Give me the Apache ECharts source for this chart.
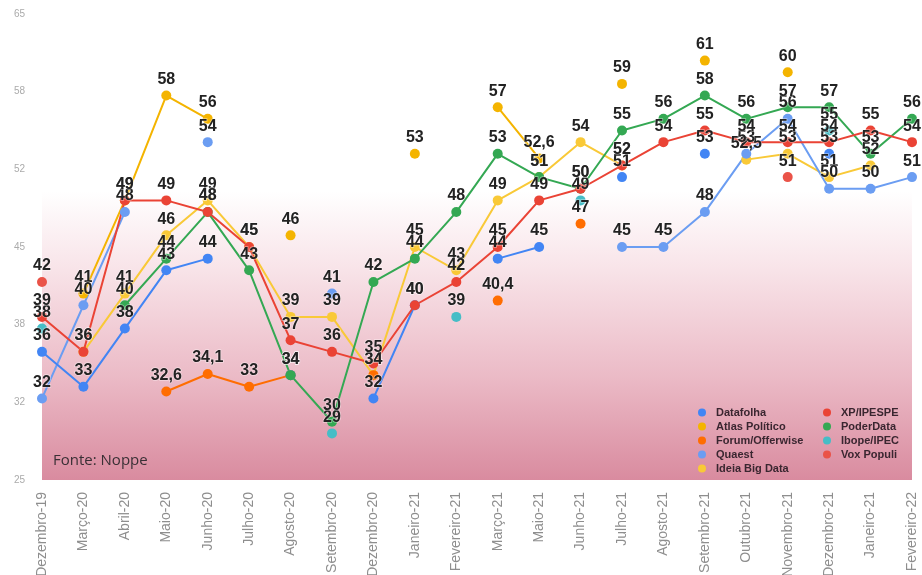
<!DOCTYPE html>
<html>
<head>
<meta charset="utf-8">
<script src="https://cdn.jsdelivr.net/npm/echarts@6/dist/echarts.min.js"></script>
<style>
  html, body { margin: 0; padding: 0; background: #fff; }
  #chart { width: 922px; height: 575px; }
</style>
</head>
<body>
<div id="chart"></div>
<script>
// Survey months (x axis)
const categories = [
  'Dezembro-19', 'Março-20', 'Abril-20', 'Maio-20', 'Junho-20', 'Julho-20',
  'Agosto-20', 'Setembro-20', 'Dezembro-20', 'Janeiro-21', 'Fevereiro-21',
  'Março-21', 'Maio-21', 'Junho-21', 'Julho-21', 'Agosto-21', 'Setembro-21',
  'Outubro-21', 'Novembro-21', 'Dezembro-21', 'Janeiro-21', 'Fevereiro-22'
];

// Disapproval (%) by pollster; null = no poll that month
const datafolha      = [36, 33, 38, 43, 44, null, 34, null, 32, 40, null, 44, 45, null, 51, null, 53, null, null, 53, null, null];
const xpIpespe       = [39, 36, 49, 49, 48, 45, 37, 36, 35, 40, 42, 45, 49, 50, 52, 54, 55, 54, 54, 54, 55, 54];
const atlasPolitico  = [null, 41, 49, 58, 56, null, 46, null, null, 53, null, 57, 52.6, null, 59, null, 61, null, 60, null, null, null];
const poderData      = [null, null, 40, 44, 48, 43, 34, 30, 42, 44, 48, 53, 51, 50, 55, 56, 58, 56, 57, 57, 53, 56];
const forumOfferwise = [null, null, null, 32.6, 34.1, 33, 34, null, 34, null, null, 40.4, null, 47, null, null, null, null, null, null, null, null];
const ibopeIpec      = [38, null, null, null, null, null, null, 29, null, null, 39, null, null, 49, null, null, null, null, null, 55, null, null];
const quaest         = [32, 40, 48, null, 54, null, null, 41, null, null, null, null, null, null, 45, 45, 48, 53, 56, 50, 50, 51];
const voxPopuli      = [42, null, null, null, null, null, null, null, null, null, null, null, null, null, null, null, null, null, 51, null, null, null];
const ideiaBigData   = [null, 36, 41, 46, 49, 45, 39, 39, 34, 45, 43, 49, 51, 54, 52, null, null, 52.5, 53, 51, 52, null];

// Y axis tick labels (six equal steps from 25 to 65)
const yTickLabels = [25, 32, 38, 45, 52, 58, 65];

const seriesDefs = [
  { name: 'Ideia Big Data',  data: ideiaBigData,   color: '#f9c937' },
  { name: 'Atlas Político',  data: atlasPolitico,  color: '#f4b400' },
  { name: 'Forum/Offerwise', data: forumOfferwise, color: '#ff6d01' },
  { name: 'Ibope/IPEC',      data: ibopeIpec,      color: '#46bdc6' },
  { name: 'Vox Populi',      data: voxPopuli,      color: '#ea5348' },
  { name: 'Quaest',          data: quaest,         color: '#6b9df2' },
  { name: 'Datafolha',       data: datafolha,      color: '#4285f4' },
  { name: 'PoderData',       data: poderData,      color: '#34a853' },
  { name: 'XP/IPESPE',       data: xpIpespe,       color: '#ea4335' }
];

function fmt(v) {
  return Number.isInteger(v) ? String(v) : v.toFixed(1).replace('.', ',');
}

const chart = echarts.init(document.getElementById('chart'), null, { renderer: 'canvas' });

const legendText = {
  fontSize: 11, fontWeight: 'bold', color: '#3a2630',
  fontFamily: 'Liberation Sans, Arial, sans-serif',
  padding: [0, 0, 0, 5]
};

chart.setOption({
  animation: false,
  backgroundColor: '#ffffff',
  grid: {
    left: 42, right: 10, top: 14, bottom: 95,
    outerBoundsMode: 'none',
    containLabel: false,
    show: true, borderWidth: 0,
    backgroundColor: {
      type: 'linear', x: 0, y: 0, x2: 0, y2: 1,
      colorStops: [
        { offset: 0, color: '#ffffff' },
        { offset: 0.38, color: '#ffffff' },
        { offset: 0.55, color: '#f8e3e8' },
        { offset: 0.78, color: '#ebbac6' },
        { offset: 1, color: '#d98b9f' }
      ]
    }
  },
  legend: [
    {
      data: ['Datafolha', 'Atlas Político', 'Forum/Offerwise', 'Quaest', 'Ideia Big Data'],
      orient: 'vertical', left: 693, top: 402,
      icon: 'circle', itemWidth: 8, itemHeight: 8, itemGap: 3,
      textStyle: legendText
    },
    {
      data: ['XP/IPESPE', 'PoderData', 'Ibope/IPEC', 'Vox Populi'],
      orient: 'vertical', left: 818, top: 402,
      icon: 'circle', itemWidth: 8, itemHeight: 8, itemGap: 3,
      textStyle: legendText
    }
  ],
  xAxis: {
    type: 'category',
    data: categories,
    boundaryGap: false,
    axisLine: { show: false },
    axisTick: { show: false },
    splitLine: { show: false },
    axisLabel: {
      rotate: 90, interval: 0, margin: 12,
      fontSize: 14, color: '#8e8e8e',
      fontFamily: 'Liberation Sans, Arial, sans-serif'
    }
  },
  yAxis: {
    type: 'value',
    min: 25, max: 65, interval: 40 / 6,
    axisLine: { show: false },
    axisTick: { show: false },
    splitLine: { show: false },
    axisLabel: {
      margin: 17, fontSize: 10, color: '#ababab',
      fontFamily: 'Liberation Sans, Arial, sans-serif',
      formatter: function (v) {
        const i = Math.round((v - 25) / (40 / 6));
        return yTickLabels[i] !== undefined ? String(yTickLabels[i]) : '';
      }
    }
  },
  series: seriesDefs.map(function (s) {
    return {
      name: s.name,
      type: 'line',
      data: s.data,
      connectNulls: false,
      symbol: 'circle',
      symbolSize: 10,
      lineStyle: { width: 2, color: s.color },
      itemStyle: { color: s.color },
      label: {
        show: true, position: 'top', distance: 3,
        fontSize: 16, fontWeight: 'bold', color: '#222',
        fontFamily: 'Liberation Sans, Arial, sans-serif',
        textBorderColor: 'rgba(255,255,255,0.45)', textBorderWidth: 1.5,
        formatter: function (p) { return fmt(p.value); }
      },
      emphasis: { disabled: true }
    };
  }),
  graphic: [
    {
      type: 'text', left: 53, top: 453,
      style: { text: 'Fonte: Noppe', fontSize: 15, fill: '#3a3035', fontFamily: 'Open Sans, sans-serif' }
    }
  ]
});
</script>
</body>
</html>
